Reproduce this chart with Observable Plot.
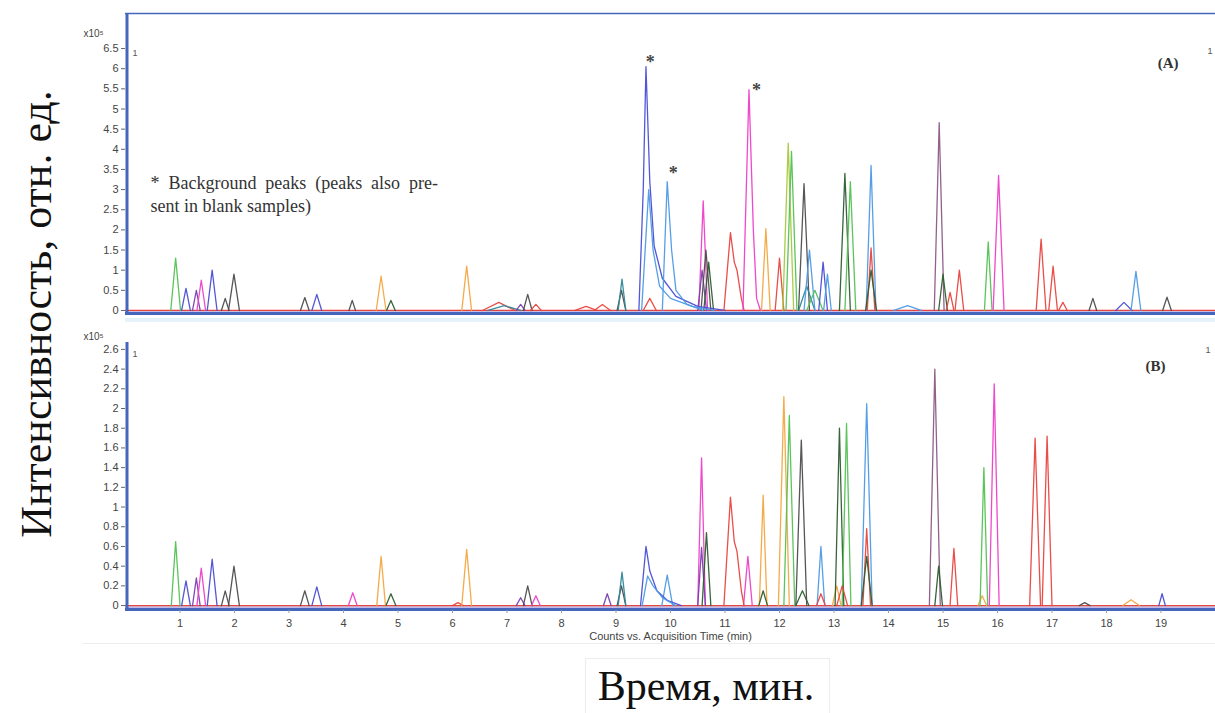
<!DOCTYPE html>
<html><head><meta charset="utf-8">
<script src="https://cdn.jsdelivr.net/npm/d3@7"></script>
<script src="https://cdn.jsdelivr.net/npm/@observablehq/plot@0.6"></script>
<style>
body{margin:0;background:#fff;}
#wrap{position:relative;width:1215px;height:713px;overflow:hidden;background:#fff;}
#wrap svg{position:absolute;left:0;}
#ylab{position:absolute;left:36px;top:314px;transform:translate(-50%,-50%) rotate(-90deg);white-space:nowrap;font-family:"Liberation Serif",serif;font-size:44px;color:#111;}
#xbox{position:absolute;left:585px;top:658px;width:243px;height:54px;border:1px solid #ececec;border-bottom:none;}
#xlab{position:absolute;left:706px;top:686px;transform:translate(-50%,-50%);white-space:nowrap;font-family:"Liberation Serif",serif;font-size:42px;line-height:46px;color:#111;}
#imgline{position:absolute;left:82px;top:643px;width:1133px;height:1px;background:#eeeeee;}
#bband{position:absolute;left:125px;top:318px;width:1090px;height:4px;background:#e6f2f9;}
</style></head>
<body><div id="wrap"><div id="imgline"></div><div id="bband"></div><div id="ylab">Интенсивность, отн. ед.</div><div id="xbox"></div><div id="xlab">Время, мин.</div></div>
<script>
// ---- series colours ----
const seriesNames  = ["green","blue","purple","magenta","grey","orange","red","lightblue","darkgreen","mauve","teal","olive"];
const seriesColors = ["#52c152","#4a4ed4","#7b3fae","#ee3fc8","#4d4d4d","#f3a640","#e8453f","#4d9ae6","#2d5e2f","#8b5a86","#2f8796","#a6c83c"];

// ---- panel A: peaks [series, apex time (min), apex height (x10^5), half base width (min)] ----
const peaksA = [
  ["green",0.92,1.3,0.09],["blue",1.11,0.55,0.08],["purple",1.30,0.5,0.07],["magenta",1.39,0.75,0.08],
  ["blue",1.59,1.0,0.09],["grey",1.83,0.3,0.07],["grey",1.99,0.9,0.1],["grey",3.29,0.32,0.08],
  ["blue",3.51,0.4,0.09],["grey",4.16,0.25,0.06],["orange",4.69,0.85,0.09],["darkgreen",4.87,0.25,0.08],
  ["orange",6.26,1.1,0.09],["red",6.85,0.2,0.3],["teal",6.95,0.12,0.3],["purple",7.25,0.15,0.08],
  ["grey",7.38,0.4,0.08],["red",7.53,0.15,0.1],["red",8.45,0.1,0.2],["red",8.75,0.15,0.15],
  ["grey",9.1,0.5,0.08],["teal",9.11,0.78,0.07],["red",9.62,0.3,0.12],
  ["magenta",10.6,2.72,0.08],["purple",10.58,1.0,0.08],["grey",10.65,1.5,0.09],["darkgreen",10.7,1.2,0.09],
  ["orange",11.75,2.03,0.08],["red",12.0,1.3,0.08],["olive",12.16,4.15,0.1],["green",12.22,3.95,0.1],
  ["grey",12.45,3.15,0.1],["teal",12.5,0.6,0.15],["lightblue",12.55,1.5,0.1],["green",12.65,0.5,0.15],
  ["blue",12.8,1.2,0.08],["lightblue",12.88,0.9,0.07],["darkgreen",13.2,3.4,0.1],["green",13.3,3.2,0.1],
  ["lightblue",13.68,3.6,0.09],["red",13.68,1.55,0.07],["darkgreen",13.68,1.0,0.1],["lightblue",14.35,0.12,0.25],
  ["mauve",14.93,4.66,0.09],["darkgreen",15.0,0.9,0.08],["red",15.13,0.45,0.07],["red",15.3,1.0,0.08],
  ["green",15.83,1.7,0.07],["magenta",16.02,3.35,0.1],["red",16.8,1.77,0.09],["red",17.02,1.1,0.08],
  ["red",17.2,0.2,0.08],["grey",17.75,0.3,0.07],["blue",18.32,0.2,0.15],["lightblue",18.54,0.97,0.09],
  ["grey",19.11,0.33,0.08]
];
// tailing / shouldered peaks in A: [series, [[time, height], ...]]
const tracesA = [
  ["blue",[[9.42,0],[9.5,3.0],[9.55,6.05],[9.62,3.2],[9.7,1.6],[9.85,0.8],[10.1,0.35],[10.5,0.1],[11,0]]],
  ["lightblue",[[9.47,0],[9.6,3.0],[9.68,1.5],[9.8,0.6],[10.0,0.3],[10.4,0.1],[10.8,0]]],
  ["lightblue",[[9.85,0],[9.94,3.2],[10.02,1.5],[10.1,0.5],[10.3,0.15],[10.6,0]]],
  ["red",[[10.98,0],[11.1,1.93],[11.17,1.2],[11.22,1.0],[11.3,0.3],[11.35,0]]],
  ["magenta",[[11.33,0],[11.44,5.48],[11.52,2.0],[11.58,0.3],[11.65,0]]]
];
const starsA = [[9.63,6.15],[10.05,3.4],[11.58,5.46]];
const noteA = [[0.46,3.15,"* Background peaks (peaks also pre-"],[0.46,2.58,"sent in blank samples)"]];
const yTicksA = [0,0.5,1,1.5,2,2.5,3,3.5,4,4.5,5,5.5,6,6.5];
const yDomainA = [-0.1,7.37];

// ---- panel B ----
const peaksB = [
  ["green",0.92,0.65,0.08],["blue",1.11,0.25,0.08],["purple",1.30,0.28,0.07],["magenta",1.39,0.38,0.08],
  ["blue",1.59,0.47,0.09],["grey",1.83,0.15,0.07],["grey",1.99,0.4,0.1],["grey",3.29,0.15,0.08],
  ["blue",3.51,0.19,0.09],["magenta",4.17,0.13,0.08],["orange",4.69,0.5,0.08],["darkgreen",4.87,0.12,0.09],
  ["red",6.1,0.03,0.1],["orange",6.26,0.57,0.09],["purple",7.25,0.08,0.08],["grey",7.38,0.2,0.08],
  ["magenta",7.53,0.1,0.08],["purple",8.84,0.12,0.07],["grey",9.1,0.2,0.08],["teal",9.11,0.34,0.07],
  ["lightblue",9.94,0.31,0.1],["magenta",10.57,1.5,0.07],["purple",10.57,0.59,0.07],["darkgreen",10.66,0.74,0.08],
  ["magenta",11.42,0.5,0.08],["orange",11.7,1.12,0.07],["darkgreen",11.7,0.15,0.08],["orange",12.08,2.12,0.1],
  ["green",12.18,1.93,0.1],["grey",12.4,1.68,0.1],["darkgreen",12.42,0.15,0.12],["lightblue",12.76,0.6,0.07],
  ["red",12.76,0.12,0.08],["orange",13.05,0.2,0.08],["darkgreen",13.1,1.8,0.08],["green",13.23,1.85,0.08],
  ["red",13.15,0.2,0.1],["lightblue",13.6,2.05,0.1],["red",13.6,0.78,0.07],["darkgreen",13.6,0.5,0.1],
  ["mauve",14.85,2.4,0.1],["darkgreen",14.92,0.4,0.07],["red",15.2,0.58,0.07],["orange",15.72,0.1,0.08],
  ["green",15.75,1.4,0.07],["magenta",15.94,2.25,0.09],["red",16.69,1.7,0.1],["red",16.91,1.72,0.09],
  ["grey",17.6,0.03,0.1],["orange",18.45,0.06,0.15],["blue",19.02,0.12,0.06]
];
const tracesB = [
  ["blue",[[9.45,0],[9.55,0.6],[9.62,0.35],[9.75,0.15],[9.95,0.05],[10.2,0]]],
  ["lightblue",[[9.48,0],[9.58,0.3],[9.68,0.2],[9.85,0.08],[10.1,0]]],
  ["red",[[10.98,0],[11.1,1.1],[11.17,0.65],[11.22,0.55],[11.3,0.15],[11.35,0]]]
];
const yTicksB = [0,0.2,0.4,0.6,0.8,1,1.2,1.4,1.6,1.8,2,2.2,2.4,2.6];
const yDomainB = [-0.05,2.67];
const xTicks = [1,2,3,4,5,6,7,8,9,10,11,12,13,14,15,16,17,18,19];
const xDomain = [0,20];
const xTitle = "Counts vs. Acquisition Time (min)";

function rowsFrom(peaks, traces) {
  const rows = [];
  peaks.forEach(([s,t,h,w],i) => {
    rows.push({id:"p"+i,s,t:t-w,v:0},{id:"p"+i,s,t,v:h},{id:"p"+i,s,t:t+w,v:0});
  });
  traces.forEach(([s,pts],i) => pts.forEach(([t,v]) => rows.push({id:"tr"+i,s,t,v})));
  return rows;
}

const font = "'Liberation Sans', Arial, sans-serif";
const serif = "'Liberation Serif', 'Times New Roman', serif";
const frameBlue = "#4467bd";

function panel({peaks, traces, yTicks, yDomain, height, marginTop, marginBottom, top, xAxis, extra}) {
  const rows = rowsFrom(peaks, traces);
  const marks = [
    Plot.ruleY([0], {stroke:"#e8453f", strokeWidth:1.2}),
    Plot.ruleY([0], {stroke:"#6a4fb0", strokeWidth:1, dy:1.5, strokeOpacity:0.7}),
    Plot.line(rows, {x:"t", y:"v", z:"id", stroke:"s", strokeWidth:1.3, strokeOpacity:0.95, strokeLinejoin:"round"}),
    Plot.ruleY([yDomain[0]], {stroke:frameBlue, strokeWidth:3, dy:-1}),
    Plot.ruleX([xDomain[0]], {stroke:frameBlue, strokeWidth:3, dx:1.5}),
    Plot.axisY(yTicks, {tickSize:4, tickPadding:3, label:null, tickFormat:d=>String(d), stroke:"#666", fill:"#444", fontSize:11}),
    ...extra
  ];
  if (xAxis) {
    marks.push(Plot.axisX(xTicks, {tickSize:3, tickPadding:6, label:null, stroke:"#999", fill:"#444", fontSize:11}));
    marks.push(Plot.text([xTitle], {frameAnchor:"bottom", dy:29, fontSize:11, fill:"#444"}));
  }
  const svg = Plot.plot({
    width:1215, height, marginLeft:125, marginRight:0, marginTop, marginBottom,
    x:{domain:xDomain, axis:null},
    y:{domain:yDomain, axis:null},
    color:{type:"ordinal", domain:seriesNames, range:seriesColors},
    style:{fontFamily:font, fontSize:"11px", background:"transparent", overflow:"visible"},
    marks
  });
  svg.style.top = top + "px";
  return svg;
}

const wrap = document.getElementById("wrap");

const svgA = panel({
  peaks:peaksA, traces:tracesA, yTicks:yTicksA, yDomain:yDomainA,
  height:320, marginTop:13, marginBottom:6, top:0, xAxis:false,
  extra:[
    Plot.ruleY([yDomainA[1]], {stroke:frameBlue, strokeWidth:1.5}),
    Plot.text(["x10⁵"], {frameAnchor:"top-left", dx:-42, dy:16, textAnchor:"start", fontSize:10, fill:"#444"}),
    Plot.text(["1"], {frameAnchor:"top-left", dx:7, dy:36, fontSize:9, fill:"#555"}),
    Plot.text(["1"], {frameAnchor:"top-right", dx:-3, dy:34, fontSize:9, fill:"#555"}),
    Plot.text(["(A)"], {frameAnchor:"top-right", dx:-37, dy:44, textAnchor:"end", fontFamily:serif, fontWeight:"bold", fontSize:15, fill:"#333"}),
    Plot.text(starsA, {x:d=>d[0], y:d=>d[1], text:()=>"*", fontFamily:serif, fontWeight:"bold", fontSize:18, fill:"#444"}),
    Plot.text(noteA, {x:d=>d[0], y:d=>d[1], text:d=>d[2], textAnchor:"start", fontFamily:serif, fontSize:18, fill:"#333"})
  ]
});
wrap.appendChild(svgA);
svgA.querySelectorAll("text").forEach(t => { if (t.textContent.startsWith("* Background")) t.style.wordSpacing = "4.4px"; });

const svgB = panel({
  peaks:peaksB, traces:tracesB, yTicks:yTicksB, yDomain:yDomainB,
  height:330, marginTop:22, marginBottom:40, top:320, xAxis:true,
  extra:[
    Plot.text(["x10⁵"], {frameAnchor:"top-left", dx:-42, dy:-10, textAnchor:"start", fontSize:10, fill:"#444"}),
    Plot.text(["1"], {frameAnchor:"top-left", dx:7, dy:8, fontSize:9, fill:"#555"}),
    Plot.text(["1"], {frameAnchor:"top-right", dx:-5, dy:4, fontSize:9, fill:"#555"}),
    Plot.text(["(B)"], {frameAnchor:"top-right", dx:-50, dy:18, textAnchor:"end", fontFamily:serif, fontWeight:"bold", fontSize:15, fill:"#333"})
  ]
});
wrap.appendChild(svgB);
</script></body></html>
